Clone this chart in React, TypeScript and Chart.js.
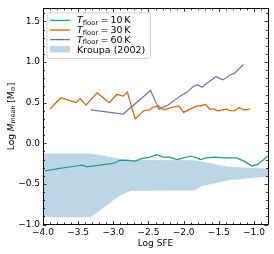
import React, { useEffect, useRef } from "react";
import { Chart, registerables } from "chart.js";
Chart.register(...registerables);

const FONT = "'DejaVu Sans', 'Liberation Sans', sans-serif";

// tick labels
const xTicks = [-4.0, -3.5, -3.0, -2.5, -2.0, -1.5, -1.0];
const yTicks = [-1.0, -0.5, 0.0, 0.5, 1.0, 1.5];
const xMin = -4.0;
const xMax = -0.8;
const yMin = -1.0;
const yMax = 1.66;

// T_floor = 10 K
const t10X = [-3.97, -3.76, -3.53, -3.44, -3.38, -3.19, -3.03, -2.97, -2.91, -2.79, -2.69, -2.6, -2.48, -2.38, -2.29, -2.2, -2.09, -2.0, -1.9, -1.81, -1.76, -1.68, -1.55, -1.42, -1.25, -1.14, -1.03, -0.95, -0.86, -0.79];
const t10Y = [-0.34, -0.31, -0.28, -0.27, -0.29, -0.27, -0.25, -0.24, -0.21, -0.21, -0.22, -0.19, -0.17, -0.14, -0.17, -0.17, -0.2, -0.18, -0.16, -0.18, -0.2, -0.18, -0.17, -0.18, -0.18, -0.22, -0.28, -0.26, -0.2, -0.15];

// T_floor = 30 K
const t30X = [-3.9, -3.75, -3.53, -3.47, -3.39, -3.23, -3.06, -2.95, -2.86, -2.8, -2.69, -2.57, -2.49, -2.44, -2.36, -2.29, -2.17, -2.07, -2.0, -1.91, -1.81, -1.75, -1.69, -1.63, -1.57, -1.51, -1.45, -1.39, -1.34, -1.27, -1.21, -1.15, -1.06];
const t30Y = [0.42, 0.56, 0.5, 0.55, 0.47, 0.62, 0.5, 0.6, 0.58, 0.63, 0.3, 0.4, 0.41, 0.44, 0.46, 0.41, 0.44, 0.46, 0.38, 0.42, 0.46, 0.46, 0.48, 0.42, 0.42, 0.4, 0.41, 0.42, 0.4, 0.4, 0.44, 0.41, 0.42];

// T_floor = 60 K
const t60X = [-3.32, -2.86, -2.47, -2.35, -2.22, -2.05, -1.95, -1.86, -1.8, -1.74, -1.65, -1.54, -1.44, -1.34, -1.28, -1.15];
const t60Y = [0.41, 0.36, 0.65, 0.42, 0.47, 0.58, 0.63, 0.7, 0.72, 0.69, 0.75, 0.82, 0.78, 0.84, 0.86, 0.97];

// Kroupa (2002) band
const kroupaX = [-4.0, -3.32, -2.9, -2.75, -1.84, -1.75, -1.36, -0.8];
const kroupaUpper = [-0.125, -0.125, -0.19, -0.205, -0.21, -0.225, -0.29, -0.315];
const kroupaLower = [-0.91, -0.91, -0.64, -0.585, -0.58, -0.53, -0.455, -0.41];

const seriesTemps = ["10", "30", "60"];
const seriesColors = ["#1b9e77", "#d95f02", "#7570b3"];
const bandColor = "#bcd6e8";
const bandLabel = "Kroupa (2002)";

const pts = (xs: number[], ys: number[]) => xs.map((x, i) => ({ x, y: ys[i] }));
const fmt = (v: number) => v.toFixed(1).replace("-", "\u2212");

type Piece = { t: string; size: number; italic?: boolean; shift?: number; gap?: number };

function drawPieces(ctx: CanvasRenderingContext2D, pieces: Piece[], x: number, y: number, align: "left" | "center") {
  const widths = pieces.map((p) => {
    ctx.font = `${p.italic ? "italic " : ""}${p.size}px ${FONT}`;
    return ctx.measureText(p.t).width + (p.gap || 0);
  });
  const total = widths.reduce((a, b) => a + b, 0);
  let cx = align === "center" ? x - total / 2 : x;
  ctx.textAlign = "left";
  ctx.textBaseline = "alphabetic";
  pieces.forEach((p, i) => {
    ctx.font = `${p.italic ? "italic " : ""}${p.size}px ${FONT}`;
    ctx.fillText(p.t, cx, y + (p.shift || 0));
    cx += widths[i];
  });
}

const decor = {
  id: "decor",
  afterDraw(chart: any) {
    const { ctx, chartArea: ca, scales } = chart;
    const xs = scales.x;
    const ys = scales.y;
    ctx.save();
    ctx.strokeStyle = "#000";
    ctx.lineWidth = 0.8;
    const snap = (v: number) => Math.round(v) + 0.5;
    // x ticks (major & minor) inward, bottom & top
    for (let i = Math.ceil(xMin * 10); i <= Math.floor(xMax * 10); i++) {
      const px = snap(xs.getPixelForValue(i / 10));
      const len = i % 5 === 0 ? 3.5 : 2;
      ctx.beginPath();
      ctx.moveTo(px, ca.bottom);
      ctx.lineTo(px, ca.bottom - len);
      ctx.moveTo(px, ca.top);
      ctx.lineTo(px, ca.top + len);
      ctx.stroke();
    }
    for (let i = Math.ceil(yMin * 10); i <= Math.floor(yMax * 10); i++) {
      const py = snap(ys.getPixelForValue(i / 10));
      const len = i % 5 === 0 ? 3.5 : 2;
      ctx.beginPath();
      ctx.moveTo(ca.left, py);
      ctx.lineTo(ca.left + len, py);
      ctx.moveTo(ca.right, py);
      ctx.lineTo(ca.right - len, py);
      ctx.stroke();
    }
    // spines
    ctx.lineWidth = 1;
    ctx.strokeRect(snap(ca.left), snap(ca.top), Math.round(ca.right - ca.left), Math.round(ca.bottom - ca.top));

    // legend
    const lx = ca.left + 4;
    const ly = ca.top + 4.5;
    const lw = 103.5;
    const lh = 45.5;
    ctx.beginPath();
    const r = 2;
    ctx.moveTo(lx + r, ly);
    ctx.lineTo(lx + lw - r, ly);
    ctx.quadraticCurveTo(lx + lw, ly, lx + lw, ly + r);
    ctx.lineTo(lx + lw, ly + lh - r);
    ctx.quadraticCurveTo(lx + lw, ly + lh, lx + lw - r, ly + lh);
    ctx.lineTo(lx + r, ly + lh);
    ctx.quadraticCurveTo(lx, ly + lh, lx, ly + lh - r);
    ctx.lineTo(lx, ly + r);
    ctx.quadraticCurveTo(lx, ly, lx + r, ly);
    ctx.closePath();
    ctx.fillStyle = "rgba(255,255,255,0.8)";
    ctx.fill();
    ctx.strokeStyle = "#d0d0d0";
    ctx.lineWidth = 1;
    ctx.stroke();

    const rowY = [12, 21.6, 31.2, 40.8].map((d) => ca.top + d);
    const hx0 = ca.left + 7;
    const hx1 = ca.left + 27;
    const tx = ca.left + 34;
    ctx.fillStyle = "#000";
    seriesTemps.forEach((t, i) => {
      ctx.strokeStyle = seriesColors[i];
      ctx.lineWidth = 1.3;
      ctx.beginPath();
      ctx.moveTo(hx0, rowY[i]);
      ctx.lineTo(hx1, rowY[i]);
      ctx.stroke();
      ctx.fillStyle = "#000";
      drawPieces(
        ctx,
        [
          { t: "T", size: 9.5, italic: true },
          { t: "floor", size: 6.8, shift: 1.8, gap: 2.2 },
          { t: "=", size: 9.5, gap: 2.2 },
          { t: t, size: 9.5, gap: 1.6 },
          { t: "K", size: 9.5 },
        ],
        tx,
        rowY[i] + 3,
        "left"
      );
    });
    ctx.fillStyle = bandColor;
    ctx.fillRect(hx0, rowY[3] - 3.2, hx1 - hx0, 6.4);
    ctx.fillStyle = "#000";
    drawPieces(ctx, [{ t: bandLabel, size: 9.5 }], tx, rowY[3] + 3.3, "left");

    // y axis title
    ctx.save();
    ctx.translate(13.5, (ca.top + ca.bottom) / 2);
    ctx.rotate(-Math.PI / 2);
    drawPieces(
      ctx,
      [
        { t: "Log ", size: 9 },
        { t: "M", size: 9, italic: true },
        { t: "mean", size: 6.3, shift: 1.8 },
        { t: " [M", size: 9 },
        { t: "\u2299", size: 6.3, shift: 1.8 },
        { t: "]", size: 9 },
      ],
      0,
      0,
      "center"
    );
    ctx.restore();
    ctx.restore();
  },
};

export default function App() {
  const ref = useRef<HTMLCanvasElement | null>(null);
  useEffect(() => {
    if (!ref.current) return;
    const lineDs = (label: string, xs: number[], ys: number[], color: string) => ({
      label,
      data: pts(xs, ys),
      borderColor: color,
      backgroundColor: color,
      borderWidth: 1.2,
      pointRadius: 0,
      tension: 0,
      fill: false,
    });
    const chart = new Chart(ref.current, {
      type: "line",
      data: {
        datasets: [
          lineDs("T10", t10X, t10Y, seriesColors[0]),
          lineDs("T30", t30X, t30Y, seriesColors[1]),
          lineDs("T60", t60X, t60Y, seriesColors[2]),
          {
            label: bandLabel,
            data: pts(kroupaX, kroupaUpper),
            borderColor: "rgba(0,0,0,0)",
            backgroundColor: bandColor,
            borderWidth: 0,
            pointRadius: 0,
            tension: 0,
            fill: "+1",
          },
          {
            label: "lower",
            data: pts(kroupaX, kroupaLower),
            borderColor: "rgba(0,0,0,0)",
            backgroundColor: bandColor,
            borderWidth: 0,
            pointRadius: 0,
            tension: 0,
            fill: false,
          },
        ],
      },
      options: {
        animation: false,
        responsive: true,
        maintainAspectRatio: false,
        layout: { padding: { left: 0, right: 6, top: 5, bottom: 0 } },
        plugins: {
          legend: { display: false },
          tooltip: { enabled: false },
          filler: { drawTime: "beforeDatasetsDraw" },
        } as any,
        scales: {
          x: {
            type: "linear",
            min: xMin,
            max: xMax,
            afterBuildTicks: (s: any) => {
              s.ticks = xTicks.map((v) => ({ value: v }));
            },
            afterFit: (s: any) => {
              s.height = 29.5;
            },
            grid: { display: false, drawTicks: false },
            border: { display: false },
            ticks: {
              padding: 3,
              color: "#000",
              font: { family: FONT, size: 9 },
              maxRotation: 0,
              autoSkip: false,
              callback: (v: any) => fmt(Number(v)),
            },
            title: {
              display: true,
              text: "Log SFE",
              color: "#000",
              font: { family: FONT, size: 9 },
              padding: { top: 0, bottom: 5 },
            },
          },
          y: {
            type: "linear",
            min: yMin,
            max: yMax,
            afterBuildTicks: (s: any) => {
              s.ticks = yTicks.map((v) => ({ value: v }));
            },
            afterFit: (s: any) => {
              s.width = 43;
            },
            grid: { display: false, drawTicks: false },
            border: { display: false },
            ticks: {
              padding: 3,
              color: "#000",
              font: { family: FONT, size: 9 },
              autoSkip: false,
              callback: (v: any) => fmt(Number(v)),
            },
          },
        },
      } as any,
      plugins: [decor],
    });
    return () => chart.destroy();
  }, []);
  return (
    <div style={{ position: "absolute", left: 0, top: 0, width: 274, height: 254, background: "#fff" }}>
      <canvas ref={ref} />
    </div>
  );
}
